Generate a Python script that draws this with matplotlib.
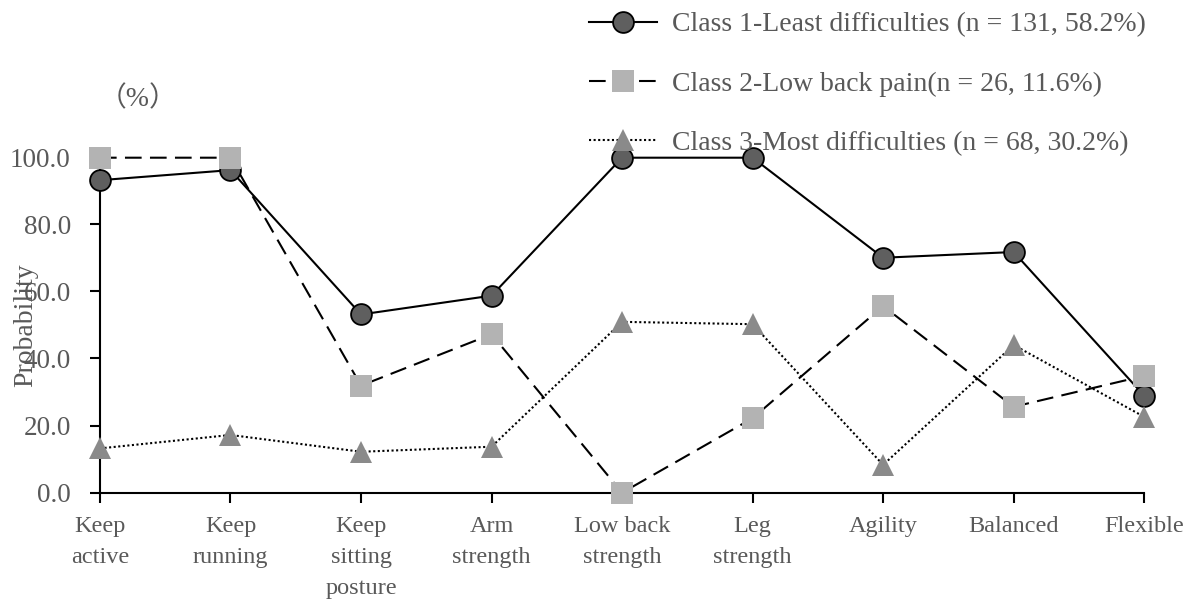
import numpy as np
import matplotlib.pyplot as plt

plt.rcParams['font.family'] = ['Liberation Serif', 'Noto Sans CJK SC', 'DejaVu Sans']

categories = ["Keep\nactive", "Keep\nrunning", "Keep\nsitting\nposture", "Arm\nstrength",
              "Low back\nstrength", "Leg\nstrength", "Agility", "Balanced", "Flexible"]
class1 = [93.1, 96.1, 53.1, 58.7, 99.8, 99.8, 70.0, 71.7, 28.9]
class2 = [99.8, 99.8, 31.9, 47.2, 0.0, 22.2, 55.6, 25.6, 34.8]
class3 = [13.2, 17.2, 12.2, 13.7, 50.9, 50.2, 8.3, 44.0, 22.6]
labels = ["Class 1-Least difficulties (n = 131, 58.2%)",
          "Class 2-Low back pain(n = 26, 11.6%)",
          "Class 3-Most difficulties (n = 68, 30.2%)"]
yticks = [0, 20, 40, 60, 80, 100]

txt = "#595959"
x = np.arange(len(categories))

fig = plt.figure(figsize=(12.03, 6.11), dpi=100)
ax = fig.add_axes([0.0831, 0.1936, 0.8680, 0.5494])

ax.plot(x, class1, color="black", lw=1.5, marker="o", markersize=15,
        markerfacecolor="#5f5f5f", markeredgecolor="black", markeredgewidth=1.3,
        label=labels[0], clip_on=False, zorder=3)
ax.plot(x, class2, color="black", lw=1.5, linestyle=(0, (8, 4)), marker="s", markersize=16,
        markerfacecolor="#b3b3b3", markeredgecolor="#b3b3b3", markeredgewidth=0,
        label=labels[1], clip_on=False, zorder=4)
ax.plot(x, class3, color="black", lw=1.5, linestyle=(0, (1, 1.2)), marker="^", markersize=16,
        markerfacecolor="#8a8a8a", markeredgecolor="#8a8a8a", markeredgewidth=0,
        label=labels[2], clip_on=False, zorder=5)

ax.set_xlim(0, len(categories) - 1)
ax.set_ylim(0, 100)
ax.set_xticks(x)
ax.set_xticklabels(categories, fontsize=17.5, color=txt, linespacing=1.6)
ax.set_yticks(yticks)
ax.set_yticklabels([f"{v:.1f}" for v in yticks], fontsize=19.5, color=txt)
ax.tick_params(axis="x", direction="out", length=7, width=1.5, pad=10)
ax.tick_params(axis="y", direction="out", length=7, width=1.5, pad=14)

for s in ["top", "right"]:
    ax.spines[s].set_visible(False)
for s in ["left", "bottom"]:
    ax.spines[s].set_linewidth(1.5)
    ax.spines[s].set_color("black")

ax.text(-0.071, 0.5, "Probability", transform=ax.transAxes, rotation=90,
        ha="center", va="center", fontsize=20, color=txt)
fig.text(138 / 1203, 1 - 99 / 611, "（%）", ha="center", va="center", fontsize=20, color=txt)

leg = fig.legend(loc="upper left", bbox_to_anchor=(589 / 1203, 1 - 12 / 611), frameon=False,
                 fontsize=20, handlelength=2.45, handletextpad=0.55, labelspacing=1.22,
                 borderpad=0, borderaxespad=0, numpoints=1)
for t in leg.get_texts():
    t.set_color(txt)

fig.savefig("out.png", dpi=100)
